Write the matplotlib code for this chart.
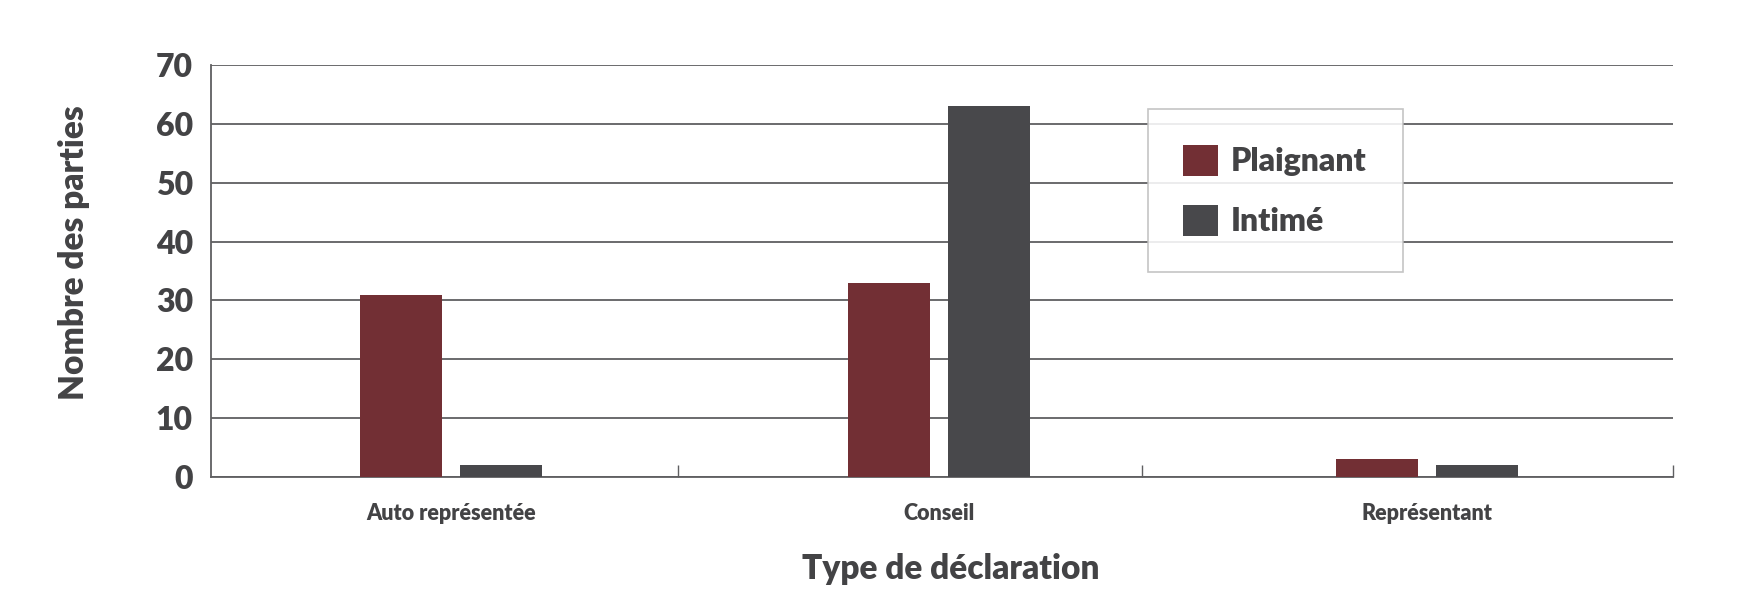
import matplotlib.pyplot as plt
import matplotlib.patches as mpatches
import numpy as np

categories = ['Auto représentée', 'Conseil', 'Représentant']
plaignant = [31, 33, 3]
intime = [2, 63, 2]
series_names = ['Plaignant', 'Intimé']
colors = ['#722f34', '#48484b']
text_color = '#434345'

plt.rcParams['font.family'] = ['Lato', 'DejaVu Sans']
plt.rcParams['font.weight'] = 'heavy'

fig = plt.figure(figsize=(17.52, 6.15), dpi=100)
ax = fig.add_axes([0.1204, 0.2244, 0.8346, 0.6699])

x = np.arange(len(categories))
width = 0.168
offset = 0.103
ax.bar(x - offset, plaignant, width, color=colors[0], label=series_names[0], zorder=3)
ax.bar(x + offset, intime, width, color=colors[1], label=series_names[1], zorder=3)

ax.set_xlim(-0.492, 2.504)
ax.set_ylim(0, 70)
ax.set_yticks(range(0, 71, 10))
ax.grid(axis='y', color='#5f5f61', linewidth=1.3, zorder=1)
ax.grid(axis='x', visible=False)

# category labels at centres, separator ticks between groups
ax.set_xticks(x)
ax.set_xticklabels(categories, fontsize=15.5, color=text_color, fontweight='heavy')
ax.tick_params(axis='x', which='major', length=0, pad=19)
ax.set_xticks([0.465, 1.416, 2.503], minor=True)
ax.tick_params(axis='x', which='minor', direction='in', length=9, width=1, color='#5f5f61')
ax.tick_params(axis='y', length=0, pad=13, labelsize=23, labelcolor=text_color)
for lab in ax.get_yticklabels():
    lab.set_fontweight('heavy')

for side in ['top', 'right']:
    ax.spines[side].set_visible(False)
for side in ['left', 'bottom']:
    ax.spines[side].set_color('#5f5f61')
    ax.spines[side].set_linewidth(1.3)

ax.set_ylabel('Nombre des parties', fontsize=24, color=text_color, fontweight='heavy')
ax.yaxis.set_label_coords(-0.083, 0.545)
ax.set_xlabel('Type de déclaration', fontsize=24, color=text_color, fontweight='heavy')
ax.xaxis.set_label_coords(0.506, -0.184)

# legend box
box = mpatches.Rectangle((0.641, 0.498), 0.174, 0.395, transform=ax.transAxes,
                         facecolor='white', edgecolor='#bdbdbd', linewidth=1.2,
                         alpha=0.88, zorder=4)
ax.add_patch(box)
leg = ax.legend(loc='upper left', bbox_to_anchor=(0.645, 0.875), frameon=False,
                fontsize=23, handlelength=1.1, handleheight=1.1,
                labelspacing=0.9, handletextpad=0.4, labelcolor=text_color)
leg.set_zorder(5)
for t in leg.get_texts():
    t.set_fontweight('heavy')

fig.savefig('out.png', dpi=100)
